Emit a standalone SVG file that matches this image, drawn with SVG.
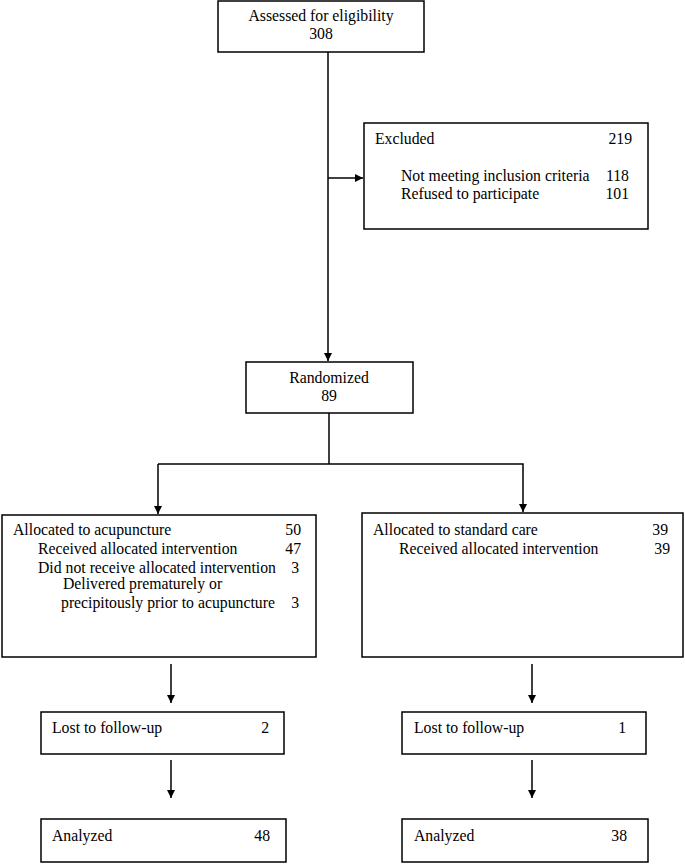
<svg xmlns="http://www.w3.org/2000/svg" width="685" height="864" viewBox="0 0 685 864">
<defs>
<style>
.box{fill:#fff;stroke:#000;stroke-width:1.5}
.ln{fill:none;stroke:#000;stroke-width:1.5}
.t{font-family:'Liberation Serif','DejaVu Serif',serif;font-size:15.75px;fill:#000}
.c{text-anchor:middle}
.r{text-anchor:end}
</style>
<marker id="ah" viewBox="0 0 10 10" refX="10" refY="5" markerWidth="8" markerHeight="8" markerUnits="userSpaceOnUse" orient="auto">
<path d="M0,0 L10,5 L0,10 z" fill="#000"/>
</marker>
</defs>
<g id="connectors">
<line class="ln" x1="328" y1="52" x2="328" y2="361" marker-end="url(#ah)"/>
<line class="ln" x1="328" y1="178" x2="363" y2="178" marker-end="url(#ah)"/>
<polyline class="ln" points="329,413 329,464"/>
<polyline class="ln" points="158,464 523,464 523,512" marker-end="url(#ah)"/>
<line class="ln" x1="158" y1="464" x2="158" y2="514" marker-end="url(#ah)"/>
<line class="ln" x1="171" y1="664" x2="171" y2="703" marker-end="url(#ah)"/>
<line class="ln" x1="171" y1="760" x2="171" y2="798" marker-end="url(#ah)"/>
<line class="ln" x1="532" y1="664" x2="532" y2="703" marker-end="url(#ah)"/>
<line class="ln" x1="532" y1="760" x2="532" y2="798" marker-end="url(#ah)"/>
</g>
<g class="t">
<g id="assessed">
<rect class="box" x="218" y="1" width="206" height="51"/>
<text class="c" x="321" y="21">Assessed for eligibility</text>
<text class="c" x="321" y="39">308</text>
</g>
<g id="excluded">
<rect class="box" x="364" y="123" width="284" height="106"/>
<text x="375" y="144">Excluded</text>
<text class="r" x="632" y="144">219</text>
<text x="401" y="181">Not meeting inclusion criteria</text>
<text class="r" x="629" y="181">118</text>
<text x="401" y="199">Refused to participate</text>
<text class="r" x="629" y="199">101</text>
</g>
<g id="randomized">
<rect class="box" x="246" y="362" width="167" height="51"/>
<text class="c" x="329" y="383">Randomized</text>
<text class="c" x="329" y="401">89</text>
</g>
<g id="acupuncture">
<rect class="box" x="2" y="515" width="314" height="142"/>
<text x="13" y="535">Allocated to acupuncture</text>
<text class="r" x="301" y="535">50</text>
<text x="38" y="554">Received allocated intervention</text>
<text class="r" x="301" y="554">47</text>
<text x="38" y="573">Did not receive allocated intervention</text>
<text class="r" x="299" y="573">3</text>
<text x="63" y="589">Delivered prematurely or</text>
<text x="61" y="608">precipitously prior to acupuncture</text>
<text class="r" x="299" y="608">3</text>
</g>
<g id="standard">
<rect class="box" x="362" y="513" width="321" height="144"/>
<text x="373" y="535">Allocated to standard care</text>
<text class="r" x="668" y="535">39</text>
<text x="399" y="554">Received allocated intervention</text>
<text class="r" x="670" y="554">39</text>
</g>
<g id="lost-left">
<rect class="box" x="41" y="712" width="243" height="42"/>
<text x="52" y="733">Lost to follow-up</text>
<text class="r" x="269" y="733">2</text>
</g>
<g id="lost-right">
<rect class="box" x="402" y="712" width="244" height="42"/>
<text x="414" y="733">Lost to follow-up</text>
<text class="r" x="626" y="733">1</text>
</g>
<g id="analyzed-left">
<rect class="box" x="41" y="819" width="245" height="43"/>
<text x="52" y="841">Analyzed</text>
<text class="r" x="270" y="841">48</text>
</g>
<g id="analyzed-right">
<rect class="box" x="402" y="819" width="246" height="43"/>
<text x="414" y="841">Analyzed</text>
<text class="r" x="627" y="841">38</text>
</g>
</g>
</svg>
